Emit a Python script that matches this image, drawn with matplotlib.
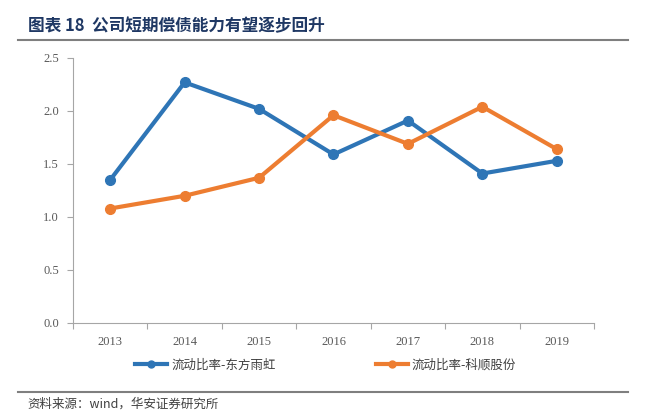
import matplotlib.pyplot as plt
from matplotlib.lines import Line2D

plt.rcParams['font.family'] = ['Liberation Serif', 'Noto Sans CJK SC', 'DejaVu Sans']

years = ['2013', '2014', '2015', '2016', '2017', '2018', '2019']
dfyh = [1.35, 2.27, 2.02, 1.59, 1.91, 1.41, 1.53]   # 流动比率-东方雨虹
kshun = [1.08, 1.20, 1.37, 1.96, 1.69, 2.04, 1.64]  # 流动比率-科顺股份
yticks = [0.0, 0.5, 1.0, 1.5, 2.0, 2.5]

blue = '#2E75B6'
orange = '#ED7D31'
grey = '#A6A6A6'

fig = plt.figure(figsize=(6.46, 4.16), dpi=100)
ax = fig.add_axes([0.113, 0.2236, 0.8065, 0.637])

x = range(len(years))
ax.plot(x, dfyh, color=blue, lw=3, marker='o', ms=7, label='流动比率-东方雨虹')
ax.plot(x, kshun, color=orange, lw=3, marker='o', ms=7, label='流动比率-科顺股份')

ax.set_xlim(-0.5, len(years) - 0.5)
ax.set_ylim(0, 2.5)
ax.set_yticks(yticks)
ax.set_yticklabels([f'{v:.1f}' for v in yticks], fontsize=9, color='#595959')
ax.set_xticks([i - 0.5 for i in range(len(years) + 1)])
ax.set_xticklabels([])
ax.tick_params(axis='x', length=4, color=grey, direction='out')
ax.tick_params(axis='y', length=4, color=grey, direction='out', pad=6)
for i, yr in enumerate(years):
    ax.text(i, -0.12, yr, ha='center', va='top', fontsize=9, color='#595959',
            transform=ax.transData)

for s in ['top', 'right']:
    ax.spines[s].set_visible(False)
ax.spines['left'].set_color(grey)
ax.spines['bottom'].set_color(grey)

handles = [Line2D([], [], color=blue, lw=3, marker='o', ms=5),
           Line2D([], [], color=orange, lw=3, marker='o', ms=5)]
fig.legend(handles, ['流动比率-东方雨虹', '流动比率-科顺股份'],
           loc='center', bbox_to_anchor=(0.504, 0.123), ncol=2, frameon=False,
           prop={'family': 'Noto Sans CJK SC', 'size': 9}, handlelength=2.6,
           handletextpad=0.3, columnspacing=8, labelcolor='#404040')

# title and rules
fig.text(0.043, 0.938, '图表 18  公司短期偿债能力有望逐步回升', fontsize=12,
         fontweight='bold', color='#1F3864', family=['Noto Sans CJK SC'], va='center')
fig.add_artist(Line2D([0.028, 0.972], [0.904, 0.904], color='#7F7F7F', lw=1.5))
fig.add_artist(Line2D([0.028, 0.972], [0.058, 0.058], color='#7F7F7F', lw=1.5))
fig.text(0.042, 0.029, '资料来源：wind，华安证券研究所', fontsize=9, color='#404040',
         family=['Noto Sans CJK SC'], va='center')

fig.savefig('out.png', dpi=100)
